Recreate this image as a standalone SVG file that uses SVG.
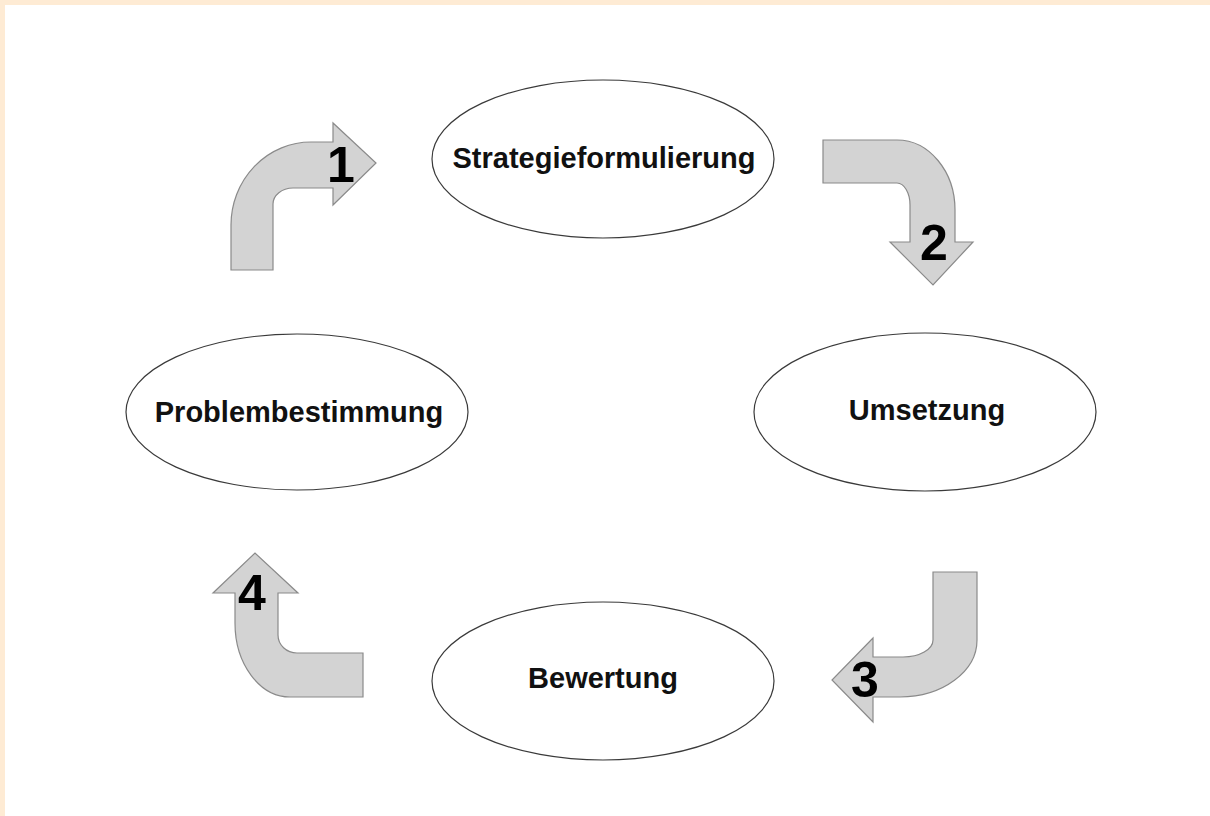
<svg xmlns="http://www.w3.org/2000/svg" width="1210" height="816" viewBox="0 0 1210 816">
<style>
.node ellipse{fill:#fff;stroke:#3a3a3a;stroke-width:1.2}
.node text{font-family:"Liberation Sans",Arial,sans-serif;font-weight:bold;font-size:29px;fill:#111;text-anchor:middle}
.arrow path{fill:#d3d3d3;stroke:#8a8a8a;stroke-width:1.2;stroke-linejoin:miter}
.arrow text{font-family:"Liberation Sans",Arial,sans-serif;font-weight:bold;font-size:50px;fill:#000;text-anchor:middle}
</style>
<rect x="0" y="0" width="1210" height="816" fill="#fff"/>
<rect x="0" y="0" width="1210" height="5" fill="#feebd4"/>
<rect x="0" y="0" width="5" height="816" fill="#feebd4"/>
<g id="connectors">
<g id="arrow1" class="arrow">
<path d="M231,270 L231,225 A80,83 0 0 1 311,142 L333,142 L333,123 L376,163 L333,205 L333,188 L293,188 A20,16 0 0 0 273,204 L273,270 Z"/>
<text x="341" y="182">1</text>
</g>
<g id="arrow2" class="arrow">
<path d="M823,140 L897,140 A58,70 0 0 1 955,210 L955,242 L973,242 L933,285 L890,242 L910,242 L910,205 A13,22 0 0 0 897,183 L823,183 Z"/>
<text x="934" y="260">2</text>
</g>
<g id="arrow3" class="arrow">
<path d="M977,572 L977,640 A77,57 0 0 1 900,697 L873,697 L873,722 L832,680 L873,638 L873,657 L903,657 A30,17 0 0 0 933,640 L933,572 Z"/>
<text x="865" y="697">3</text>
</g>
<g id="arrow4" class="arrow">
<path d="M235,593 L213,593 L255,553 L298,593 L278,593 L278,635 A19,18 0 0 0 297,653 L363,653 L363,697 L290,697 A55,74 0 0 1 235,623 Z"/>
<text x="252" y="610">4</text>
</g>
</g>
<g id="strategieformulierung" class="node">
<ellipse cx="603" cy="159" rx="171" ry="79"/>
<text x="604" y="168">Strategieformulierung</text>
</g>
<g id="umsetzung" class="node">
<ellipse cx="925" cy="412" rx="171" ry="79"/>
<text x="927" y="420">Umsetzung</text>
</g>
<g id="bewertung" class="node">
<ellipse cx="603" cy="681" rx="171" ry="79"/>
<text x="603" y="688">Bewertung</text>
</g>
<g id="problembestimmung" class="node">
<ellipse cx="297" cy="412" rx="171" ry="78"/>
<text x="299" y="422">Problembestimmung</text>
</g>
</svg>
